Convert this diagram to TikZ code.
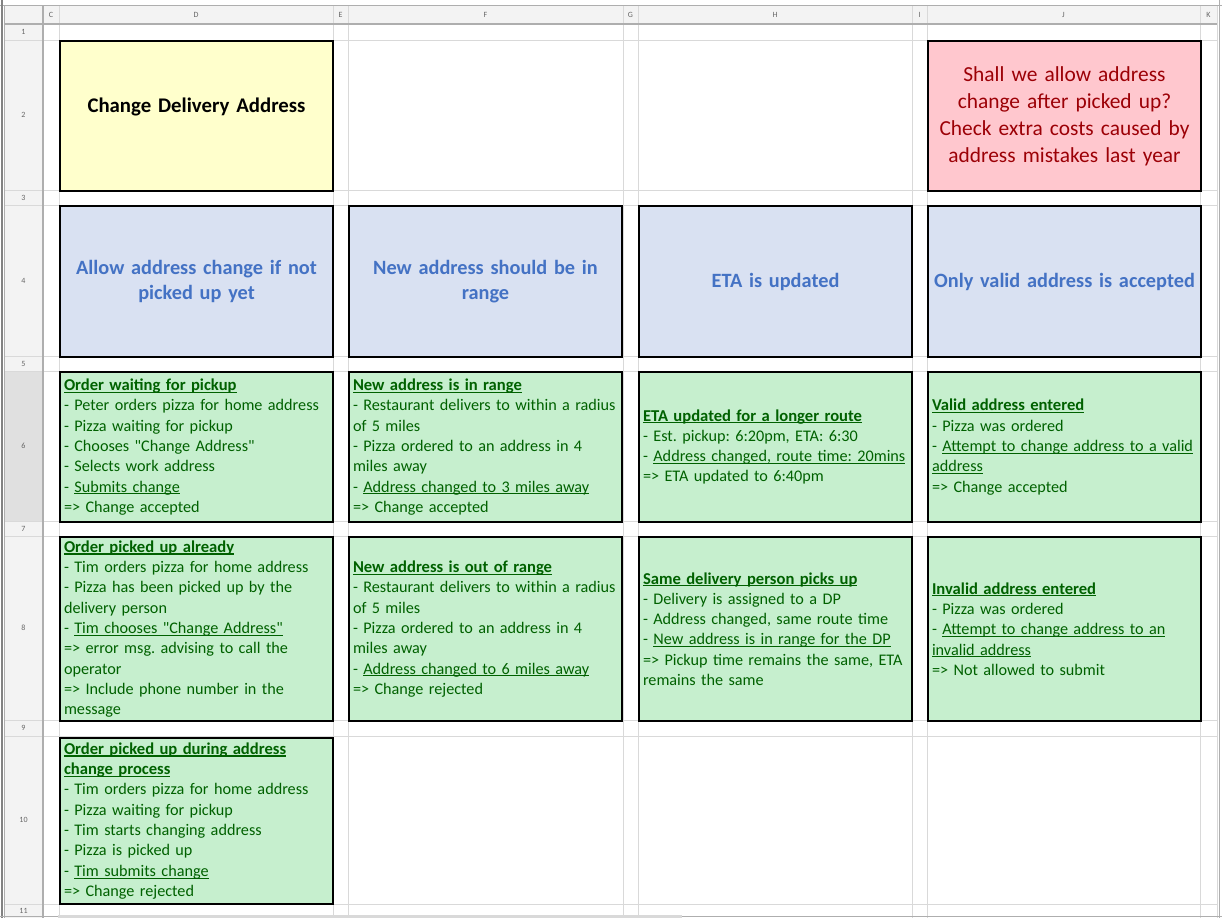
\documentclass[tikz,border=0pt]{standalone}
\usepackage{fontspec}
\setmainfont{Carlito}
\definecolor{gridgray}{HTML}{D9D9D9}
\definecolor{headfill}{HTML}{F3F3F3}
\definecolor{headtext}{HTML}{666666}
\definecolor{greenfill}{HTML}{C6EFCE}
\definecolor{greentext}{HTML}{006100}
\definecolor{bluefill}{HTML}{D9E1F2}
\definecolor{bluetext}{HTML}{4472C4}
\definecolor{yellowfill}{HTML}{FFFFCC}
\definecolor{pinkfill}{HTML}{FFC7CE}
\definecolor{pinktext}{HTML}{9C0006}
% underline close to the baseline, as the sheet does
\newcommand\undl[2][0.9pt]{\leavevmode\setbox0\hbox{#2}\rlap{\rule[-2.3pt]{\wd0}{#1}}\box0}
\newcommand\ttl[1]{\undl[1.3pt]{\fontsize{16.6}{20.3}\selectfont\textbf{#1}}}
\newcommand\qt[1]{\textquotedbl#1\textquotedbl}
\frenchspacing
\begin{document}
\begin{tikzpicture}[x=1pt,y=-1pt,
    gridline/.style={draw=gridgray,line width=0.8pt},
    headcell/.style={font=\fontsize{8}{9}\selectfont,text=headtext,inner sep=0pt},
    box/.style={draw=black,line width=2pt,anchor=north west,inner xsep=4pt,inner ysep=0pt,text width=265pt,minimum height=#1},
    greenbox/.style={box=#1,fill=greenfill,text=greentext,align=left,font=\fontsize{16.2}{20.3}\selectfont},
    bluebox/.style={box=151pt,fill=bluefill,text=bluetext,align=center,font=\bfseries\fontsize{20.3}{25.5}\selectfont}]
\useasboundingbox (0,0) rectangle (1222,918);
\fill[white] (0,0) rectangle (1222,918);
% Draw the sheet headers
\fill[headfill] (4,5) rectangle (1217,24);
\fill[headfill] (4,24) rectangle (43,918);
\fill[black!12] (4,371) rectangle (43,521);
\foreach \x in {59,333,348,623,638,912,927,1200,1217}
  \draw[gridline] (\x,5) -- (\x,918);
\foreach \y in {40,190,205,356,371,521,536,720,736,904}
  \draw[gridline] (4,\y) -- (1217,\y);
\draw[gridgray!80!black,line width=1.2pt] (4,24) -- (1217,24);
\draw[gridgray!80!black,line width=1.2pt] (43,5) -- (43,918);
\draw[gridgray!80!black] (0,5) -- (1222,5);
\draw[gridgray!60!black,line width=1.5pt] (2,0) -- (2,918);
\draw[gridgray!80!black] (4,5) -- (4,918);
\draw[gridgray!80!black] (0,916) -- (1222,916);
\fill[gridgray] (58,914.5) rectangle (682,918);
\draw[gridgray!80!black] (1219,0) -- (1219,918);
\foreach \x/\c in {51/C,196/D,340.5/E,485.5/F,630.5/G,775/H,919.5/I,1063.5/J,1208.5/K}
  \node[headcell] (col\c) at (\x,14.5) {\c};
\foreach \y/\r in {32/1,115/2,197.5/3,280.5/4,363.5/5,446/6,528.5/7,628/8,728/9,820/10,911/11}
  \node[headcell] (row\r) at (23.5,\y) {\r};
% Draw the top cells
\node[box=150pt,fill=yellowfill,align=center,text depth=22pt,font=\bfseries\fontsize{20.8}{25.5}\selectfont] (d2) at (59,40) {Change Delivery Address};
\node[box=150pt,fill=pinkfill,text=pinktext,align=center,font=\fontsize{21.4}{27}\selectfont] (j2) at (927,40)
  {Shall we allow address\\change after picked up?\\Check extra costs caused by\\address mistakes last year};
% Draw the rules
\node[bluebox] (d4) at (59,205) {Allow address change if not\\picked up yet};
\node[bluebox] (f4) at (348,205) {New address should be in\\range};
\node[bluebox] (h4) at (638,205) {ETA is updated};
\node[bluebox] (j4) at (927,205) {Only valid address is accepted};
% Draw the examples
\node[greenbox=150pt] (d6) at (59,371) {\ttl{Order waiting for pickup}\\
  - Peter orders pizza for home address\\
  - Pizza waiting for pickup\\
  - Chooses \qt{Change Address}\\
  - Selects work address\\
  - \undl{Submits change}\\
  => Change accepted};
\node[greenbox=150pt] (f6) at (348,371) {\ttl{New address is in range}\\
  - Restaurant delivers to within a radius\\
  of 5 miles\\
  - Pizza ordered to an address in 4\\
  miles away\\
  - \undl{Address changed to 3 miles away}\\
  => Change accepted};
\node[greenbox=150pt] (h6) at (638,371) {\ttl{ETA updated for a longer route}\\
  - Est. pickup: 6:20pm, ETA: 6:30\\
  - \undl{Address changed, route time: 20mins}\\
  => ETA updated to 6:40pm};
\node[greenbox=150pt] (j6) at (927,371) {\ttl{Valid address entered}\\
  - Pizza was ordered\\
  - \undl{Attempt to change address to a valid}\\
  \undl{address}\\
  => Change accepted};
\node[greenbox=184pt] (d8) at (59,536) {\ttl{Order picked up already}\\
  - Tim orders pizza for home address\\
  - Pizza has been picked up by the\\
  delivery person\\
  - \undl{Tim chooses \qt{Change Address}}\\
  => error msg. advising to call the\\
  operator\\
  => Include phone number in the\\
  message};
\node[greenbox=184pt] (f8) at (348,536) {\ttl{New address is out of range}\\
  - Restaurant delivers to within a radius\\
  of 5 miles\\
  - Pizza ordered to an address in 4\\
  miles away\\
  - \undl{Address changed to 6 miles away}\\
  => Change rejected};
\node[greenbox=184pt] (h8) at (638,536) {\ttl{Same delivery person picks up}\\
  - Delivery is assigned to a DP\\
  - Address changed, same route time\\
  - \undl{New address is in range for the DP}\\
  => Pickup time remains the same, ETA\\
  remains the same};
\node[greenbox=184pt] (j8) at (927,536) {\ttl{Invalid address entered}\\
  - Pizza was ordered\\
  - \undl{Attempt to change address to an}\\
  \undl{invalid address}\\
  => Not allowed to submit};
\node[greenbox=166pt] (d10) at (59,737) {\ttl{Order picked up during address}\\
  \ttl{change process}\\
  - Tim orders pizza for home address\\
  - Pizza waiting for pickup\\
  - Tim starts changing address\\
  - Pizza is picked up\\
  - \undl{Tim submits change}\\
  => Change rejected};
\end{tikzpicture}
\end{document}
